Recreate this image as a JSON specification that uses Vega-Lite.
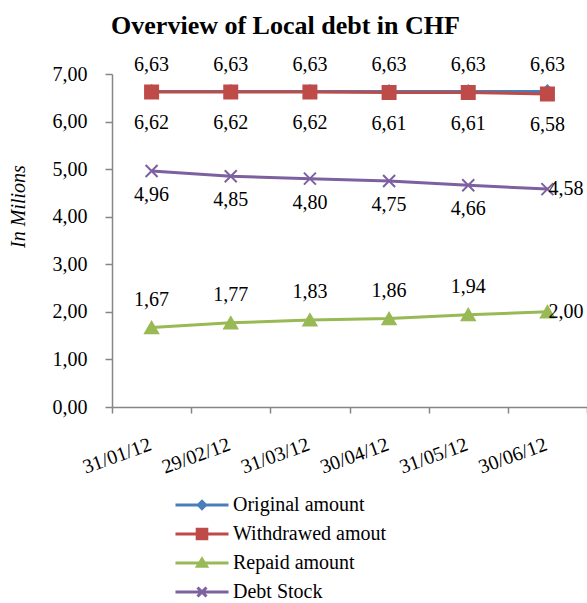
{
  "$schema": "https://vega.github.io/schema/vega-lite/v6.json",
  "width": 475,
  "height": 333,
  "autosize": {"type": "none"},
  "padding": {"left": 112, "top": 74, "right": 0, "bottom": 196},
  "background": "white",
  "title": {
    "text": "Overview of Local debt in CHF",
    "font": "Liberation Serif",
    "fontSize": 26,
    "fontWeight": "bold",
    "color": "black",
    "anchor": "middle",
    "frame": "group",
    "dx": -64,
    "offset": 16
  },
  "config": {
    "view": {"stroke": null},
    "locale": {"number": {"decimal": ",", "thousands": ".", "grouping": [3], "currency": ["", ""]}},
    "axis": {"labelFont": "Liberation Serif", "titleFont": "Liberation Serif", "labelColor": "black", "titleColor": "black", "grid": false, "domainColor": "#868686", "tickColor": "#868686", "domainWidth": 1.5, "tickWidth": 1.5}
  },
  "data": {
    "values": [
      {"date": "31/01/12", "series": "Original amount", "value": 6.63},
      {"date": "29/02/12", "series": "Original amount", "value": 6.63},
      {"date": "31/03/12", "series": "Original amount", "value": 6.63},
      {"date": "30/04/12", "series": "Original amount", "value": 6.63},
      {"date": "31/05/12", "series": "Original amount", "value": 6.63},
      {"date": "30/06/12", "series": "Original amount", "value": 6.63},
      {"date": "31/01/12", "series": "Withdrawed amout", "value": 6.62},
      {"date": "29/02/12", "series": "Withdrawed amout", "value": 6.62},
      {"date": "31/03/12", "series": "Withdrawed amout", "value": 6.62},
      {"date": "30/04/12", "series": "Withdrawed amout", "value": 6.61},
      {"date": "31/05/12", "series": "Withdrawed amout", "value": 6.61},
      {"date": "30/06/12", "series": "Withdrawed amout", "value": 6.58},
      {"date": "31/01/12", "series": "Repaid amount", "value": 1.67},
      {"date": "29/02/12", "series": "Repaid amount", "value": 1.77},
      {"date": "31/03/12", "series": "Repaid amount", "value": 1.83},
      {"date": "30/04/12", "series": "Repaid amount", "value": 1.86},
      {"date": "31/05/12", "series": "Repaid amount", "value": 1.94},
      {"date": "30/06/12", "series": "Repaid amount", "value": 2.00},
      {"date": "31/01/12", "series": "Debt Stock", "value": 4.96},
      {"date": "29/02/12", "series": "Debt Stock", "value": 4.85},
      {"date": "31/03/12", "series": "Debt Stock", "value": 4.80},
      {"date": "30/04/12", "series": "Debt Stock", "value": 4.75},
      {"date": "31/05/12", "series": "Debt Stock", "value": 4.66},
      {"date": "30/06/12", "series": "Debt Stock", "value": 4.58}
    ]
  },
  "encoding": {
    "x": {
      "field": "date", "type": "ordinal", "sort": null,
      "scale": {"paddingInner": 0, "paddingOuter": 0},
      "axis": {"title": null, "labelAngle": -20, "labelFontSize": 20, "tickBand": "extent", "tickSize": 6, "labelPadding": 21, "labelOffset": -5, "labelAlign": "right", "labelBaseline": "top"}
    },
    "y": {
      "field": "value", "type": "quantitative",
      "scale": {"domain": [0, 7], "nice": false},
      "axis": {"title": "In Milions", "titleFontStyle": "italic", "titleFontWeight": "normal", "titleFontSize": 20, "titleAngle": -90, "titleX": -94, "titleY": 132, "titleAlign": "center", "titleBaseline": "middle", "values": [0, 1, 2, 3, 4, 5, 6, 7], "format": ".2f", "labelFontSize": 20, "tickSize": 7, "labelPadding": 18}
    }
  },
  "layer": [
    {
      "mark": {"type": "line", "strokeWidth": 3},
      "encoding": {
        "color": {
          "field": "series", "type": "nominal",
          "scale": {"domain": ["Original amount", "Withdrawed amout", "Repaid amount", "Debt Stock"], "range": ["#4A7EBB", "#BE4B48", "#98B954", "#7D60A0"]},
          "legend": {
            "title": null, "orient": "none", "legendX": 80, "legendY": 421, "direction": "vertical",
            "labelFont": "Liberation Serif", "labelFontSize": 20, "labelColor": "black", "labelOffset": 21,
            "symbolSize": 144, "symbolStrokeWidth": 3, "rowPadding": 8, "padding": 0,
            "encode": {
              "symbols": {
                "update": {
                  "shape": {"signal": "datum.value === 'Original amount' ? 'M-4.42,0L4.42,0M0,-0.6L0.6,0L0,0.6L-0.6,0Z' : datum.value === 'Withdrawed amout' ? 'M-4.42,0L4.42,0M-0.8,-0.8L0.8,-0.8L0.8,0.8L-0.8,0.8Z' : datum.value === 'Repaid amount' ? 'M-4.42,0L4.42,0M0,-0.65L0.75,0.55L-0.75,0.55Z' : 'M-4.42,0L4.42,0M-0.75,-0.75L0.75,0.75M-0.75,0.75L0.75,-0.75'"},
                  "fill": {"scale": "color", "field": "value"},
                  "stroke": {"scale": "color", "field": "value"},
                  "strokeWidth": {"value": 3},
                  "opacity": {"value": 1}
                }
              }
            }
          }
        }
      }
    },
    {
      "transform": [{"filter": "datum.series === 'Original amount'"}],
      "mark": {"type": "point", "shape": "diamond", "filled": true, "size": 150, "strokeWidth": 2, "opacity": 1, "fill": "#4A7EBB", "stroke": "#4A7EBB"}
    },
    {
      "transform": [{"filter": "datum.series === 'Withdrawed amout'"}],
      "mark": {"type": "point", "shape": "square", "filled": true, "size": 169, "strokeWidth": 2, "opacity": 1, "fill": "#BE4B48", "stroke": "#BE4B48"}
    },
    {
      "transform": [{"filter": "datum.series === 'Repaid amount'"}],
      "mark": {"type": "point", "shape": "triangle-up", "filled": true, "size": 169, "strokeWidth": 2, "opacity": 1, "fill": "#98B954", "stroke": "#98B954"}
    },
    {
      "transform": [{"filter": "datum.series === 'Debt Stock'"}],
      "mark": {"type": "point", "shape": "M-1,-1L1,1M-1,1L1,-1", "filled": false, "size": 144, "strokeWidth": 2, "opacity": 1, "stroke": "#7D60A0"}
    },
    {
      "transform": [{"filter": "datum.series === 'Original amount'"}],
      "mark": {"type": "text", "font": "Liberation Serif", "fontSize": 20, "color": "black", "baseline": "middle", "dy": -27},
      "encoding": {"text": {"field": "value", "type": "quantitative", "format": ".2f"}}
    },
    {
      "transform": [{"filter": "datum.series === 'Withdrawed amout'"}],
      "mark": {"type": "text", "font": "Liberation Serif", "fontSize": 20, "color": "black", "baseline": "middle", "dy": 31},
      "encoding": {"text": {"field": "value", "type": "quantitative", "format": ".2f"}}
    },
    {
      "transform": [{"filter": "datum.series === 'Debt Stock' && datum.date !== '30/06/12'"}],
      "mark": {"type": "text", "font": "Liberation Serif", "fontSize": 20, "color": "black", "baseline": "middle", "dy": 24},
      "encoding": {"text": {"field": "value", "type": "quantitative", "format": ".2f"}}
    },
    {
      "transform": [{"filter": "datum.series === 'Repaid amount' && datum.date !== '30/06/12'"}],
      "mark": {"type": "text", "font": "Liberation Serif", "fontSize": 20, "color": "black", "baseline": "middle", "dy": -28},
      "encoding": {"text": {"field": "value", "type": "quantitative", "format": ".2f"}}
    },
    {
      "transform": [{"filter": "(datum.series === 'Repaid amount' || datum.series === 'Debt Stock') && datum.date === '30/06/12'"}],
      "mark": {"type": "text", "font": "Liberation Serif", "fontSize": 20, "color": "black", "baseline": "middle", "align": "left", "dx": 1},
      "encoding": {"text": {"field": "value", "type": "quantitative", "format": ".2f"}}
    }
  ]
}
